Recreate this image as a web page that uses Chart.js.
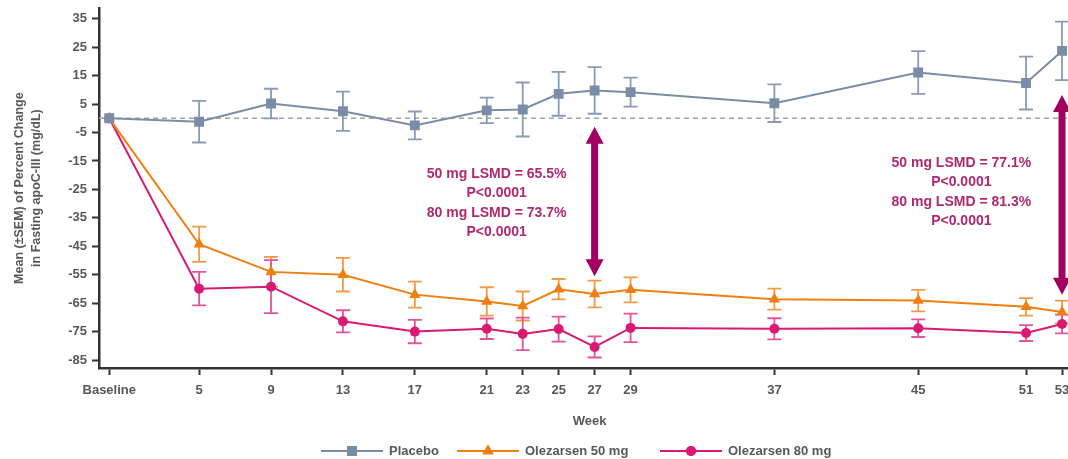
<!DOCTYPE html>
<html>
<head>
<meta charset="utf-8">
<script src="https://cdn.jsdelivr.net/npm/chart.js@4.4.1/dist/chart.umd.min.js"></script>
<style>
  html, body { margin: 0; padding: 0; background: #fff; overflow: hidden; }
  #wrap { width: 1090px; height: 459px; }
</style>
</head>
<body>
<div id="wrap"><canvas id="apocChart" width="1090" height="459"></canvas></div>
<script>
// weeks on the x axis, Baseline = week 0
const weeks = [0, 5, 9, 13, 17, 21, 23, 25, 27, 29, 37, 45, 51, 53];
const weekLabels = ['Baseline', '5', '9', '13', '17', '21', '23', '25', '27', '29', '37', '45', '51', '53'];
const yTicks = [35, 25, 15, 5, -5, -15, -25, -35, -45, -55, -65, -75, -85];

// mean percent change and SEM per group
const placeboMean = [0, -1.2, 5.2, 2.5, -2.5, 2.8, 3.1, 8.6, 9.8, 9.2, 5.3, 16.1, 12.4, 23.7];
const placeboSem  = [0, 7.3, 5.2, 6.9, 4.9, 4.5, 9.5, 7.7, 8.2, 5.1, 6.6, 7.5, 9.3, 10.3];
const mg50Mean = [0, -44.3, -54.0, -55.0, -62.0, -64.4, -66.0, -60.1, -61.8, -60.3, -63.6, -64.1, -66.3, -68.1];
const mg50Sem  = [0, 6.2, 5.3, 5.9, 4.6, 5.0, 5.1, 3.6, 4.7, 4.4, 3.7, 3.8, 3.1, 4.0];
const mg80Mean = [0, -59.9, -59.2, -71.4, -75.0, -74.0, -75.8, -74.1, -80.4, -73.7, -74.0, -73.8, -75.5, -72.3];
const mg80Sem  = [0, 5.9, 9.3, 3.9, 4.1, 3.6, 5.7, 4.4, 3.7, 5.0, 3.7, 3.1, 2.8, 3.3];

// LSMD annotations: arrow week, arrow top/bottom value, text block
const arrowWeeks = [27, 53];
const arrowTops = [-3, 8.2];
const arrowBottoms = [-55.5, -62];
const noteWeeks = [21.55, 47.4];
const noteTops = [-19.6, -15.7];
const noteLines = [
    ['50 mg LSMD = 65.5%', 'P<0.0001', '80 mg LSMD = 73.7%', 'P<0.0001'],
    ['50 mg LSMD = 77.1%', 'P<0.0001', '80 mg LSMD = 81.3%', 'P<0.0001']
];

const seriesNames = ['Placebo', 'Olezarsen 50 mg', 'Olezarsen 80 mg'];
const seriesColors = ['#7b8da6', '#f07f0f', '#d91a72'];
const barColors = ['#8a9bb2', '#f39a45', '#e2559a'];
const pointStyles = ['rect', 'triangle', 'circle'];
const pointSizes = [7, 6.5, 5];

const textGray = '#58585a';
const noteColor = '#b0296e';
const arrowColor = '#a10060';

function toPoints(means) {
    return weeks.map((w, i) => ({ x: w, y: means[i] }));
}

const sems = [placeboSem, mg50Sem, mg80Sem];

// error bars + dashed zero reference line
const errorBars = {
    id: 'errorBars',
    beforeDatasetsDraw(chart) {
        const ctx = chart.ctx;
        const xs = chart.scales.x;
        const ys = chart.scales.y;
        const area = chart.chartArea;

        ctx.save();
        ctx.strokeStyle = '#a3a3a3';
        ctx.lineWidth = 1.6;
        ctx.setLineDash([5, 4]);
        ctx.beginPath();
        ctx.moveTo(area.left, ys.getPixelForValue(0));
        ctx.lineTo(area.right, ys.getPixelForValue(0));
        ctx.stroke();
        ctx.setLineDash([]);

        chart.data.datasets.forEach((ds, di) => {
            ctx.strokeStyle = barColors[di];
            ctx.lineWidth = 1.8;
            ds.data.forEach((p, i) => {
                const e = sems[di][i];
                if (!e) return;
                const x = xs.getPixelForValue(p.x);
                const yt = ys.getPixelForValue(p.y + e);
                const yb = ys.getPixelForValue(p.y - e);
                ctx.beginPath();
                ctx.moveTo(x, yt); ctx.lineTo(x, yb);
                ctx.moveTo(x - 7, yt); ctx.lineTo(x + 7, yt);
                ctx.moveTo(x - 7, yb); ctx.lineTo(x + 7, yb);
                ctx.stroke();
            });
        });
        ctx.restore();
    }
};

function drawArrow(ctx, x, y1, y2) {
    const head = 17, half = 9, shaft = 3.5;
    ctx.beginPath();
    ctx.moveTo(x, y1);
    ctx.lineTo(x + half, y1 + head);
    ctx.lineTo(x + shaft, y1 + head);
    ctx.lineTo(x + shaft, y2 - head);
    ctx.lineTo(x + half, y2 - head);
    ctx.lineTo(x, y2);
    ctx.lineTo(x - half, y2 - head);
    ctx.lineTo(x - shaft, y2 - head);
    ctx.lineTo(x - shaft, y1 + head);
    ctx.lineTo(x - half, y1 + head);
    ctx.closePath();
    ctx.fill();
}

// LSMD arrows and notes
const lsmdNotes = {
    id: 'lsmdNotes',
    afterDatasetsDraw(chart) {
        const ctx = chart.ctx;
        const xs = chart.scales.x;
        const ys = chart.scales.y;
        ctx.save();
        ctx.fillStyle = arrowColor;
        arrowWeeks.forEach((w, i) => {
            drawArrow(ctx, xs.getPixelForValue(w), ys.getPixelForValue(arrowTops[i]), ys.getPixelForValue(arrowBottoms[i]));
        });
        ctx.fillStyle = noteColor;
        ctx.font = 'bold 14px "Liberation Sans", Arial, sans-serif';
        ctx.textAlign = 'center';
        ctx.textBaseline = 'middle';
        noteWeeks.forEach((w, i) => {
            const x = xs.getPixelForValue(w);
            const y = ys.getPixelForValue(noteTops[i]);
            noteLines[i].forEach((t, j) => ctx.fillText(t, x, y + j * 19.5));
        });
        ctx.restore();
    }
};

// legend with line + marker samples
const lineLegend = {
    id: 'lineLegend',
    afterDraw(chart) {
        const ctx = chart.ctx;
        const y = 451;
        const starts = [321, 457, 660];
        ctx.save();
        ctx.font = 'bold 13px "Liberation Sans", Arial, sans-serif';
        ctx.textBaseline = 'middle';
        ctx.textAlign = 'left';
        seriesNames.forEach((name, i) => {
            const x0 = starts[i];
            ctx.strokeStyle = seriesColors[i];
            ctx.lineWidth = 1.8;
            ctx.beginPath();
            ctx.moveTo(x0, y);
            ctx.lineTo(x0 + 62, y);
            ctx.stroke();
            ctx.fillStyle = seriesColors[i];
            Chart.helpers.drawPoint(ctx, { pointStyle: pointStyles[i], radius: pointSizes[i], rotation: 0, borderWidth: 0 }, x0 + 31, y);
            ctx.fill();
            ctx.fillStyle = textGray;
            ctx.fillText(name, x0 + 68, y + 0.5);
        });
        ctx.restore();
    }
};

const datasets = [placeboMean, mg50Mean, mg80Mean].map((m, i) => ({
    label: seriesNames[i],
    data: toPoints(m),
    borderColor: seriesColors[i],
    backgroundColor: seriesColors[i],
    borderWidth: 2,
    pointStyle: pointStyles[i],
    pointRadius: pointSizes[i],
    pointBorderWidth: 0,
    pointBackgroundColor: seriesColors[i],
    tension: 0
}));

const fontFamily = '"Liberation Sans", Arial, sans-serif';
const tickFont = { family: fontFamily, size: 13, weight: 'bold' };

new Chart(document.getElementById('apocChart'), {
    type: 'line',
    data: { datasets: datasets },
    plugins: [errorBars, lsmdNotes, lineLegend],
    options: {
        responsive: false,
        animation: false,
        layout: { padding: { left: 11, top: 6, right: 10, bottom: 27 } },
        plugins: { legend: { display: false }, tooltip: { enabled: false } },
        scales: {
            x: {
                type: 'linear',
                min: -0.57,
                max: 54,
                afterBuildTicks: (axis) => { axis.ticks = weeks.map(v => ({ value: v })); },
                afterFit: (axis) => { axis.height = 64; },
                ticks: {
                    autoSkip: false,
                    maxRotation: 0,
                    padding: 8,
                    color: textGray,
                    font: tickFont,
                    callback: (v) => weekLabels[weeks.indexOf(v)]
                },
                grid: { drawOnChartArea: false, drawTicks: true, tickLength: 7, tickWidth: 2, tickColor: '#333' },
                border: { display: true, color: '#333', width: 2.5 },
                title: {
                    display: true,
                    text: 'Week',
                    color: textGray,
                    font: { family: fontFamily, size: 13, weight: 'bold' },
                    padding: { top: 0, bottom: 3 }
                }
            },
            y: {
                min: -87.8,
                max: 38.7,
                afterBuildTicks: (axis) => { axis.ticks = yTicks.map(v => ({ value: v })); },
                afterFit: (axis) => { axis.width = 88; },
                ticks: { padding: 5, color: textGray, font: { family: fontFamily, size: 13, weight: 'bold', lineHeight: 0.5 } },
                grid: { drawOnChartArea: false, drawTicks: true, tickLength: 7, tickWidth: 2, tickColor: '#333' },
                border: { display: true, color: '#333', width: 2.5 },
                title: {
                    display: true,
                    text: ['Mean (±SEM) of Percent Change', 'in Fasting apoC-III (mg/dL)'],
                    color: textGray,
                    font: { family: fontFamily, size: 12.5, weight: 'bold', lineHeight: 1.36 },
                    padding: { top: 0, bottom: 0 }
                }
            }
        }
    }
});
</script>
</body>
</html>
